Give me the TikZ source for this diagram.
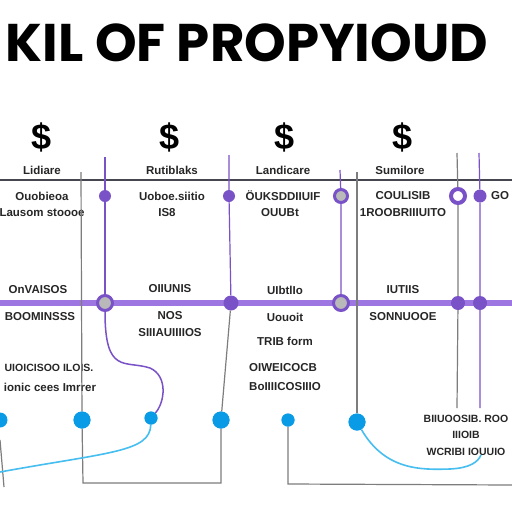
\documentclass[tikz,border=0pt]{standalone}
\usepackage{fontspec}
\setmainfont{Liberation Sans}
\newfontfamily\titlefont{Poppins}
\usetikzlibrary{positioning,calc}
\definecolor{lnpurple}{RGB}{122,82,200}
\definecolor{bandpurple}{RGB}{158,118,225}
\definecolor{dotblue}{RGB}{10,155,230}
\definecolor{wireblue}{RGB}{70,190,240}
\definecolor{wiregray}{RGB}{125,125,125}
\definecolor{rulegray}{RGB}{70,70,80}
\tikzset{
  lbl/.style={font=\bfseries\fontsize{11.5}{12}\selectfont, text=black!85,
              inner sep=0pt, align=center},
  slbl/.style={lbl, font=\bfseries\fontsize{10.5}{12}\selectfont},
  cash/.style={font=\bfseries\fontsize{36}{36}\selectfont, inner sep=0pt},
  pdot/.style={circle, fill=lnpurple, minimum size=12pt, inner sep=0pt},
  pring/.style={circle, draw=lnpurple, line width=3pt, fill=gray!55,
                minimum size=15pt, inner sep=0pt},
  wring/.style={circle, draw=lnpurple, line width=4pt, fill=white,
                minimum size=14pt, inner sep=0pt},
  bdot/.style={circle, fill=dotblue, minimum size=17pt, inner sep=0pt},
  sbdot/.style={circle, fill=dotblue, minimum size=13pt, inner sep=0pt},
  pline/.style={draw=lnpurple, line width=1.2pt},
  gline/.style={draw=wiregray, line width=1.2pt},
  bwire/.style={draw=wireblue, line width=1.6pt}
}

\begin{document}
\begin{tikzpicture}[x=1pt, y=-1pt]
\useasboundingbox[fill=white] (0,0) rectangle (512,512);

% title
\node[font=\titlefont\bfseries\fontsize{53}{54}\selectfont, inner sep=0pt] (title) at (247,43) {KIL OF PROPYIOUD};

% column heads
\node[cash] (cash1) at (42,137) {\$};
\node[cash] (cash2) at (170,137) {\$};
\node[cash] (cash3) at (285,137) {\$};
\node[cash] (cash4) at (403,137) {\$};
\node[lbl] (head1) at (42,170) {Lidiare};
\node[lbl] (head2) at (172,170) {Rutiblaks};
\node[lbl] (head3) at (283,170) {Landicare};
\node[lbl] (head4) at (400,170) {Sumilore};

% rules
\coordinate (ruleL) at (0,180);
\coordinate (ruleR) at (512,180);
\coordinate (bandL) at (0,303);
\coordinate (bandR) at (512,303);
\draw[draw=rulegray, line width=1.3pt] (ruleL) -- (ruleR);

% text blocks
\node[lbl] (t1a) at (42,196) {Ouobieoa};
\node[lbl] (t1b) at (42,213) {Lausom stoooe};
\node[lbl] (t2a) at (172,196) {Uoboe.siitio};
\node[lbl] (t2b) at (167,213) {IS8};
\node[lbl] (t3a) at (283,196) {ÖUKSDDIIUIF};
\node[lbl] (t3b) at (280,213) {OUUBt};
\node[lbl] (t4a) at (403,196) {COULISIB};
\node[lbl] (t4b) at (403,213) {1ROOBRIIIUITO};
\node[lbl, anchor=west] (t5) at (491,196) {GO};

\node[lbl] (t1c) at (38,290) {OnVAISOS};
\node[lbl] (t2c) at (170,289) {OIIUNIS};
\node[lbl] (t3c) at (285,290) {UIbtlIo};
\node[lbl] (t4c) at (403,290) {IUTIIS};
\node[lbl] (t1d) at (40,317) {BOOMINSSS};
\node[lbl] (t2d) at (170,316) {NOS};
\node[lbl] (t3d) at (285,317) {Uouoit};
\node[lbl] (t4d) at (403,317) {SONNUOOE};
\node[lbl] (t2e) at (170,333) {SIIIAUIIIIOS};
\node[lbl] (t3e) at (285,341) {TRIB form};
\node[slbl] (t1f) at (49,368) {UIOICISOO ILOIS.};
\node[lbl] (t3f) at (283,368) {OIWEICOCB};
\node[lbl] (t1g) at (50,387) {ionic cees Imrrer};
\node[lbl] (t3g) at (285,387) {BoIIIICOSIIIO};
\node[slbl] (t6a) at (466,419) {BIIUOOSIB. ROO};
\node[slbl] (t6b) at (466,435) {IIIOIB};
\node[slbl] (t6c) at (466,452) {WCRIBI IOUUIO};

% band
\draw[draw=bandpurple, line width=6pt] (bandL) -- (bandR);

% vertical tops and ends
\coordinate (top1) at (81,172);
\coordinate (top2) at (105,157);
\coordinate (top3) at (229,155);
\coordinate (top4) at (340,170);
\coordinate (top5) at (357,172);
\coordinate (top6) at (457,153);
\coordinate (top7) at (479,153);
\coordinate (end6) at (457,408);
\coordinate (end7) at (480,408);

% dots on the rows
\node[pdot] (m2) at (105,196) {};
\node[pring] (n2) at (105,303) {};
\node[pdot] (m3) at (229,196) {};
\node[pdot, minimum size=15pt] (n3) at (231,303) {};
\node[pring, minimum size=13pt] (m4) at (341,196) {};
\node[pring] (n4) at (341,303) {};
\node[wring] (m6) at (458,196) {};
\node[pdot, minimum size=14pt] (n6) at (458,303) {};
\node[pdot, minimum size=13pt] (m7) at (480,196) {};
\node[pdot, minimum size=14pt] (n7) at (480,303) {};

% blue dots
\node[bdot, minimum size=15pt] (b0) at (0,420) {};
\node[bdot] (b1) at (82,420) {};
\node[sbdot] (b2) at (151,418) {};
\node[bdot] (b3) at (221,420) {};
\node[sbdot] (b4) at (288,420) {};
\node[bdot] (b5) at (357,422) {};

% connectors
\draw[pline] (top2) -- (m2) -- (n2);
\draw[pline] (top3) -- (m3) -- (n3);
\draw[pline] (top4) -- (m4) -- (n4);
\draw[gline] (top6) -- (m6) -- (n6) -- (end6);
\draw[pline] (top7) -- (m7) -- (n7) -- (end7);
\draw[gline] (top1) -- (b1);
\draw[gline] (top5) -- (b5);
\draw[gline] (n3) -- (b3);
\draw[gline] (b1) -- (83,483) -- (221,483) -- (b3);
\draw[gline] (b4) -- (288,484) -- (512,485);
\draw[gline] (0,440) -- (4,487);
\draw[pline, line width=1.5pt] (n2) .. controls (105,375) and (125,360) .. (150,368)
  .. controls (168,376) and (165,402) .. (b2);
\draw[bwire] (b2) .. controls (150,452) and (110,452) .. (0,472);
\draw[bwire] (b5) .. controls (385,470) and (420,470) .. (450,469)
  .. controls (470,468) and (478,462) .. (481,455);

% re-draw dots above lines
\node[bdot] at (b1) {};
\node[sbdot] at (b2) {};
\node[bdot] at (b3) {};
\node[sbdot] at (b4) {};
\node[bdot] at (b5) {};
\end{tikzpicture}
\end{document}
